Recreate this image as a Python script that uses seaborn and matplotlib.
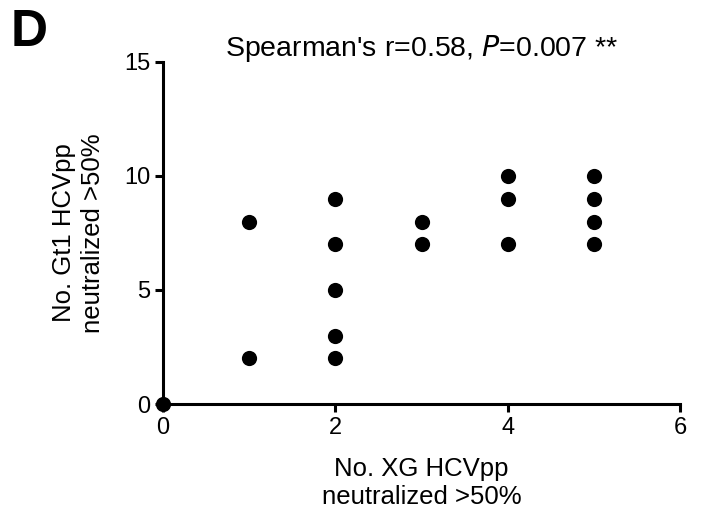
import matplotlib
matplotlib.use("Agg")
import matplotlib.pyplot as plt
import seaborn as sns
import pandas as pd

sns.set_style("ticks")
plt.rcParams['font.family'] = ['Liberation Sans', 'DejaVu Sans']
plt.rcParams['text.color'] = 'black'
plt.rcParams['axes.labelcolor'] = 'black'

xg = [0, 1, 1, 2, 2, 2, 2, 2, 3, 3, 4, 4, 4, 5, 5, 5, 5]
gt1 = [0, 2, 8, 2, 3, 5, 7, 9, 7, 8, 7, 9, 10, 7, 8, 9, 10]
x_ticks = [0, 2, 4, 6]
y_ticks = [0, 5, 10, 15]

df = pd.DataFrame({"xg": xg, "gt1": gt1})

fig = plt.figure(figsize=(7.09, 5.2), dpi=100)
ax = fig.add_axes([0.23, 0.223, 0.729, 0.658])
sns.scatterplot(data=df, x="xg", y="gt1", ax=ax, color="black", s=120,
                edgecolor="black", linewidth=0, clip_on=False, zorder=5)
ax.set_xlim(0, 6)
ax.set_ylim(0, 15)
ax.set_xticks(x_ticks)
ax.set_yticks(y_ticks)
ax.tick_params(labelsize=17, width=2.2, length=6, pad=3, color="black", labelcolor="black")
for s in ["top", "right"]:
    ax.spines[s].set_visible(False)
for s in ["left", "bottom"]:
    ax.spines[s].set_linewidth(2.2)
    ax.spines[s].set_color("black")
ax.set_xlabel("No. XG HCVpp\nneutralized >50%", fontsize=18.5, labelpad=13, linespacing=1.25)
ax.set_ylabel("No. Gt1 HCVpp\nneutralized >50%", fontsize=18.5, labelpad=14, linespacing=1.25)
ax.text(3, 15.6, "Spearman's r=0.58, $\\mathit{P}$=0.007 **", ha="center", va="center",
        fontsize=20.5)
fig.text(0.015, 0.985, "D", fontsize=37, fontweight="bold", va="top", ha="left")
fig.savefig("out.png", dpi=100)
